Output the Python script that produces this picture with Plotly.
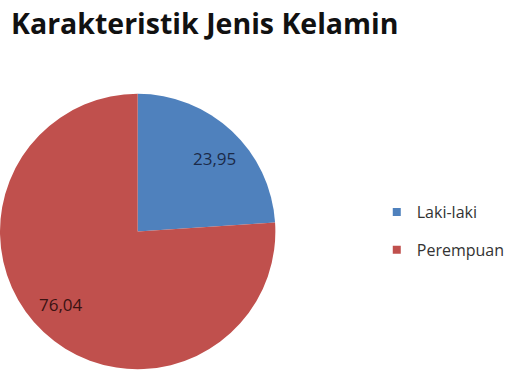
import math
import plotly.graph_objects as go

# ---- data ----
labels = ["Laki-laki", "Perempuan"]
values = [23.95, 76.04]
value_text = ["23,95", "76,04"]
colors = ["#4F81BD", "#C0504D"]
label_colors = ["#1B2A48", "#3A1212"]

W, H = 510, 370
dom_x = [0, 277 / W]
dom_y = [0, 277 / H]

fig = go.Figure()
fig.add_trace(go.Pie(
    labels=labels, values=values, sort=False, direction="clockwise", rotation=0,
    marker=dict(colors=colors, line=dict(width=0)),
    textinfo="none", hoverinfo="label+value", showlegend=False,
    domain=dict(x=dom_x, y=dom_y),
))

# data labels placed along each slice's bisector
cx = (dom_x[0] + dom_x[1]) / 2 * W
cy = (1 - (dom_y[0] + dom_y[1]) / 2) * H
R = min((dom_x[1] - dom_x[0]) * W, (dom_y[1] - dom_y[0]) * H) / 2
total = sum(values)
cum = 0
for v, t, c in zip(values, value_text, label_colors):
    mid = (cum + v / 2) / total * 2 * math.pi + math.radians(3.5)
    cum += v
    px = cx + 0.77 * R * math.sin(mid)
    py = cy - 0.77 * R * math.cos(mid)
    fig.add_annotation(x=px / W, y=1 - py / H, xref="paper", yref="paper",
                       xanchor="center", yanchor="middle",
                       text=t, showarrow=False,
                       font=dict(family="Open Sans, sans-serif", size=17, color=c))

# legend entries
for i, (lab, col) in enumerate(zip(labels, colors)):
    fig.add_trace(go.Scatter(
        x=[None], y=[None], mode="markers", name=lab, legendgroup=f"g{i}",
        marker=dict(symbol="square", size=8, color=col),
    ))

fig.update_layout(
    width=W, height=H, margin=dict(l=0, r=0, t=0, b=0),
    paper_bgcolor="white", plot_bgcolor="white",
    title=dict(text="<b>Karakteristik Jenis Kelamin</b>", x=11 / W, xanchor="left",
               y=1 - 24 / H, yanchor="middle",
               font=dict(family="Open Sans, sans-serif", size=28.5, color="#111111")),
    xaxis=dict(visible=False), yaxis=dict(visible=False),
    legend=dict(x=(419 - 40) / W, xanchor="left", y=1 - 231 / H, yanchor="middle",
                font=dict(family="Open Sans, sans-serif", size=16, color="#333333"),
                tracegroupgap=14, bgcolor="rgba(0,0,0,0)"),
)

fig.write_html("out.html")
